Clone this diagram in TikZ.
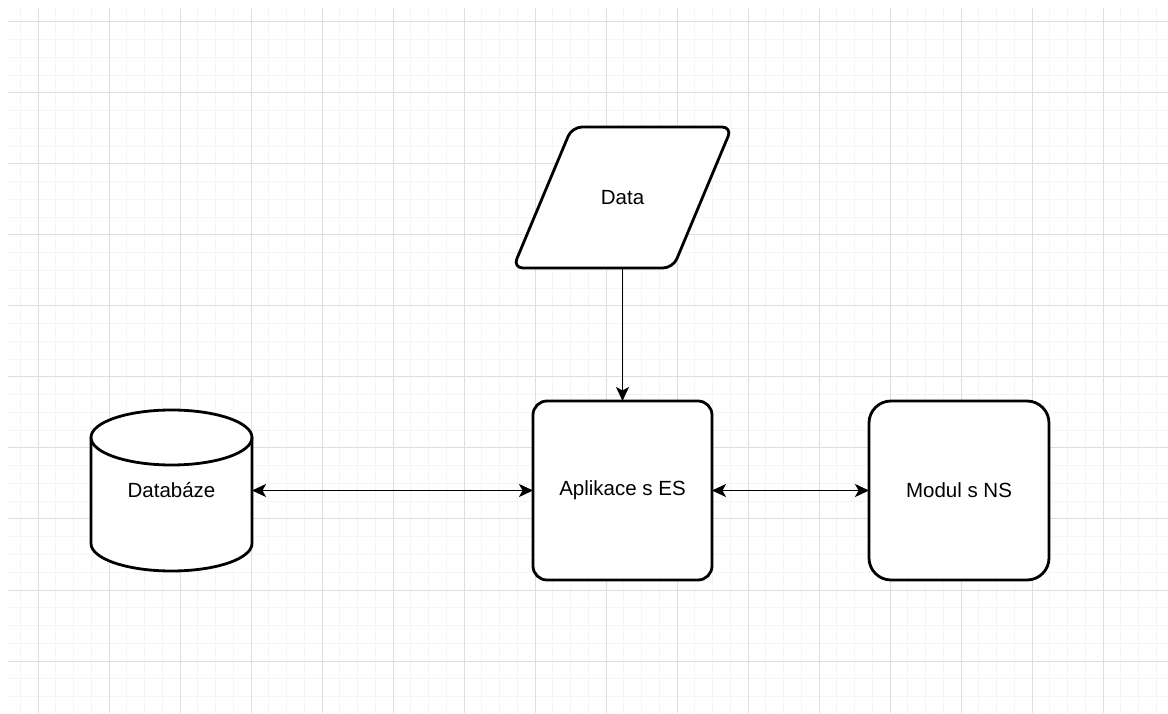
\documentclass[tikz,border=0pt]{standalone}
\usepackage{fontspec}
\setmainfont{Liberation Sans}
\usetikzlibrary{calc, arrows.meta, positioning}
\pgfdeclarelayer{grid}
\pgfdeclarelayer{back}
\pgfsetlayers{grid,back,main}

\begin{document}
\begin{tikzpicture}[
      x=1pt, y=1pt,
      node distance=133pt and 157pt,
      >={Stealth[length=14pt, width=13pt, inset=3.5pt]},
      box/.style={draw, fill=white, line width=2.8pt, minimum width=179pt,
                  minimum height=179pt, outer sep=0pt, font=\fontsize{20.5}{24}\selectfont},
      bare/.style={outer sep=0pt, font=\fontsize{20.5}{24}\selectfont},
      outline/.style={draw, fill=white, line width=2.8pt},
      arr/.style={<->, line width=1.5pt},
      oneway/.style={->, line width=1.5pt},
      minorline/.style={black!4, line width=1pt},
      majorline/.style={black!13, line width=1pt}
    ]
    \useasboundingbox (0,0) rectangle (1168,713);

    % background grid
    \begin{pgfonlayer}{grid}
      \fill[white] (0,0) rectangle (1168,713);
      \begin{scope}
        \clip (8,0) rectangle (1168,705);
        \foreach \k in {0,...,65}
          \draw[minorline] (20.25+17.75*\k,0) -- ++(0,705);
        \foreach \k in {0,...,39}
          \draw[minorline] (8,708.75-17.75*\k) -- ++(1160,0);
        \foreach \k in {0,...,15}
          \draw[majorline] (38+71*\k,0) -- ++(0,705);
        \foreach \k in {0,...,9}
          \draw[majorline] (8,691-71*\k) -- ++(1160,0);
      \end{scope}
    \end{pgfonlayer}

    \node[box, rounded corners=14pt] (app) at (622.5,222.5) {Aplikace s ES};
    \node[box, rounded corners=22pt, minimum width=180pt, right=of app] (ns) {Modul s NS};
    \node[bare, minimum width=161pt, minimum height=161pt, left=281pt of app] (db) {Databáze};
    \node[bare, minimum width=160pt, minimum height=141pt, above=of app] (data) {Data};

    % cylinder and parallelogram behind their texts
    \begin{pgfonlayer}{back}
      \draw[outline] ([yshift=-27.5pt]db.north west) -- ([yshift=27.5pt]db.south west)
        arc[start angle=180, end angle=360, x radius=80.5pt, y radius=27.5pt]
        -- ([yshift=-27.5pt]db.north east)
        arc[start angle=0, end angle=180, x radius=80.5pt, y radius=27.5pt] -- cycle;
      \draw[line width=2.8pt] ([yshift=-27.5pt]db.north west)
        arc[start angle=180, end angle=360, x radius=80.5pt, y radius=27.5pt];
      \draw[outline, rounded corners=10pt]
        ($(data.north west)+(29.5,0)$) -- ($(data.north east)+(29.5,0)$)
        -- ($(data.south east)-(29.5,0)$) -- ($(data.south west)-(29.5,0)$) -- cycle;
    \end{pgfonlayer}

    \draw[oneway] (data) -- (app);
    \draw[arr] (db) -- (app);
    \draw[arr] (app) -- (ns);
  \end{tikzpicture}
\end{document}
